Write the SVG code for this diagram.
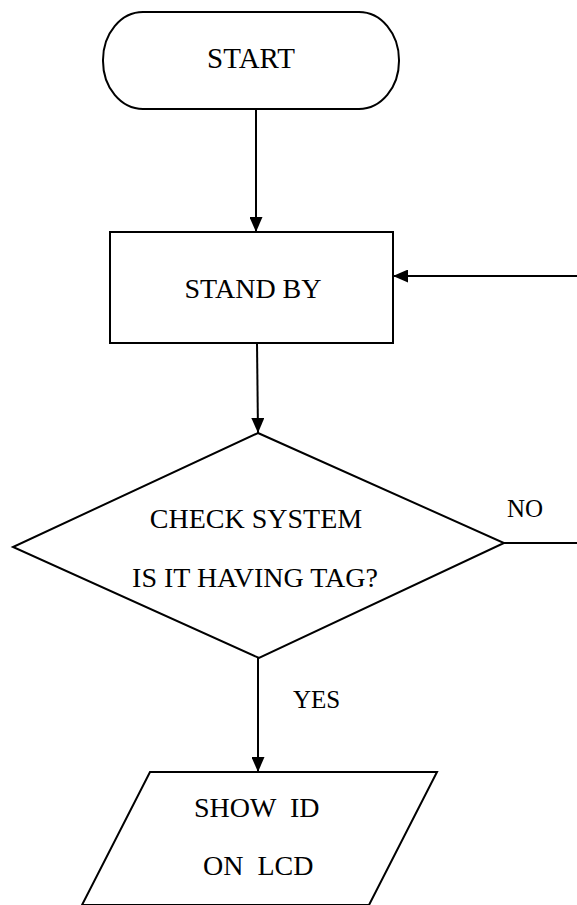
<svg xmlns="http://www.w3.org/2000/svg" width="577" height="905" viewBox="0 0 577 905">
  <style>
    .shape { fill: #ffffff; stroke: #000000; stroke-width: 2; }
    .line { fill: none; stroke: #000000; stroke-width: 2; }
    .label { font-family: "Liberation Serif", "Times New Roman", serif; font-size: 28px; fill: #000000; white-space: pre; }
    .small { font-size: 25px; }
  </style>
  <defs>
    <marker id="arrow" viewBox="0 0 15 13" refX="15" refY="6.5" markerWidth="15" markerHeight="13" markerUnits="userSpaceOnUse" orient="auto">
      <path d="M0,0 L15,6.5 L0,13 Z" fill="#000000"/>
    </marker>
  </defs>
  <rect width="577" height="905" fill="#ffffff"/>

  <g id="connectors">
    <line class="line" x1="256" y1="109" x2="256" y2="232" marker-end="url(#arrow)"/>
    <line class="line" x1="257" y1="343" x2="258" y2="433" marker-end="url(#arrow)"/>
    <line class="line" x1="258" y1="658" x2="258" y2="772" marker-end="url(#arrow)"/>
    <line class="line" x1="504" y1="543" x2="577" y2="543"/>
    <line class="line" x1="577" y1="276" x2="393" y2="276" marker-end="url(#arrow)"/>
  </g>

  <!-- terminal with elliptical ends -->
  <g id="start">
    <rect class="shape" x="103" y="12" width="296" height="97" rx="40" ry="48"/>
    <text class="label" x="251" y="68" text-anchor="middle" style="font-size:29px">START</text>
  </g>

  <g id="standby">
    <rect class="shape" x="110" y="232" width="283" height="111"/>
    <text class="label" x="253" y="298" text-anchor="middle">STAND BY</text>
  </g>

  <g id="check">
    <polygon class="shape" points="258,433 504,543 259,658 13,547"/>
    <text class="label" x="256" y="528" text-anchor="middle">CHECK SYSTEM</text>
    <text class="label" x="255" y="587" text-anchor="middle">IS IT HAVING TAG?</text>
    <text class="label small" x="507" y="517">NO</text>
  </g>

  <g id="show">
    <polygon class="shape" points="150,772 437,772 369,905 82,905"/>
    <text class="label small" x="293" y="708">YES</text>
    <text class="label" x="194" y="817">SHOW  ID</text>
    <text class="label" x="203" y="875">ON  LCD</text>
  </g>
</svg>
